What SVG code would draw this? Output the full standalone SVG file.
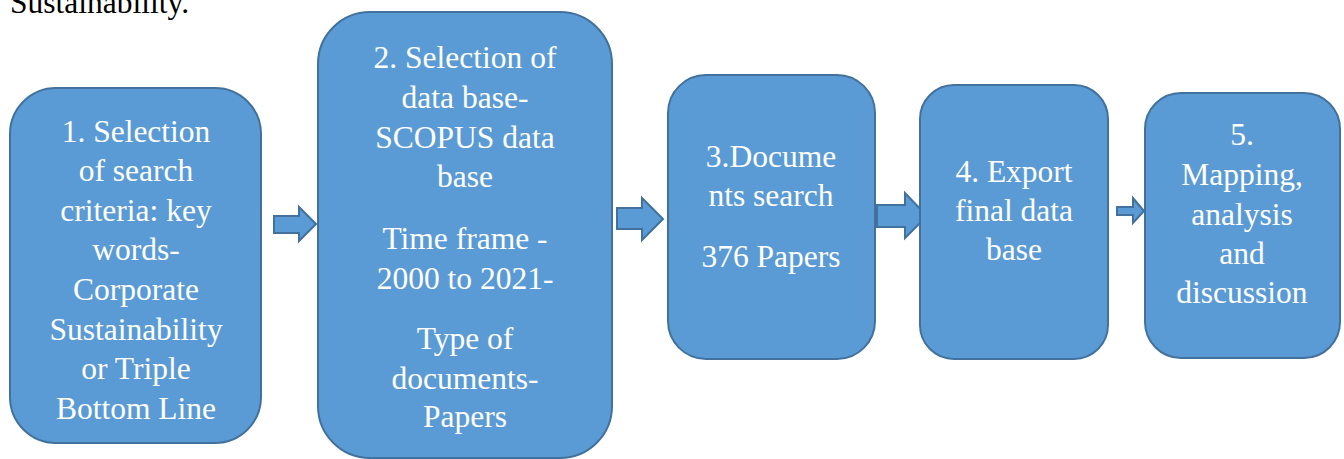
<svg xmlns="http://www.w3.org/2000/svg" width="1344" height="459" viewBox="0 0 1344 459">
<style>
.box{fill:#5B9BD5;stroke:#41719C;stroke-width:2}
.arr{fill:#5B9BD5;stroke:#41719C;stroke-width:2;stroke-linejoin:miter}
text{font-family:'Liberation Serif','Times New Roman',Times,'DejaVu Serif',serif;font-size:31.5px}
.t{fill:#FFFFFF;text-anchor:middle}
.cap{fill:#000000}
</style>
<rect width="1344" height="459" fill="#FFFFFF"/>
<text class="cap" x="10" y="13" font-family="Liberation Serif, serif">Sustainability.</text>
<g id="connectors">
<polygon class="arr" points="274,216 299,216 299,207 316,224 299,241 299,233 274,233"/>
<polygon class="arr" points="617,208 642,208 642,198 663,219 642,240 642,229 617,229"/>
<polygon class="arr" points="877,205 905,205 905,193 927,216 905,238 905,227 877,227"/>
<polygon class="arr" points="1117,207 1133,207 1133,198 1144,211 1133,223 1133,215 1117,215"/>
</g>
<g id="node1">
<rect class="box" x="10" y="88" width="251" height="355" rx="46" ry="46"/>
<text class="t" font-family="Liberation Serif, serif"><tspan x="136" y="142">1. Selection</tspan><tspan x="136" y="181">of search</tspan><tspan x="136" y="221">criteria: key</tspan><tspan x="136" y="260">words-</tspan><tspan x="136" y="300">Corporate</tspan><tspan x="136" y="340">Sustainability</tspan><tspan x="136" y="379">or Triple</tspan><tspan x="136" y="419">Bottom Line</tspan></text>
</g>
<g id="node2">
<rect class="box" x="318" y="12" width="294" height="446" rx="52" ry="52"/>
<text class="t" font-family="Liberation Serif, serif"><tspan x="465" y="68">2. Selection of</tspan><tspan x="465" y="108">data base-</tspan><tspan x="465" y="148">SCOPUS data</tspan><tspan x="465" y="187">base</tspan><tspan x="465" y="249">Time frame -</tspan><tspan x="465" y="289">2000 to 2021-</tspan><tspan x="465" y="349">Type of</tspan><tspan x="465" y="389">documents-</tspan><tspan x="465" y="427">Papers</tspan></text>
</g>
<g id="node3">
<rect class="box" x="668" y="75" width="207" height="284" rx="38" ry="38"/>
<text class="t" font-family="Liberation Serif, serif"><tspan x="771" y="167">3.Docume</tspan><tspan x="771" y="206">nts search</tspan><tspan x="771" y="267">376 Papers</tspan></text>
</g>
<g id="node4">
<rect class="box" x="920" y="85" width="188" height="274" rx="34" ry="34"/>
<text class="t" font-family="Liberation Serif, serif"><tspan x="1014" y="182">4. Export</tspan><tspan x="1014" y="221">final data</tspan><tspan x="1014" y="260">base</tspan></text>
</g>
<g id="node5">
<rect class="box" x="1145" y="93" width="195" height="265" rx="36" ry="36"/>
<text class="t" font-family="Liberation Serif, serif"><tspan x="1242" y="145">5.</tspan><tspan x="1242" y="185">Mapping,</tspan><tspan x="1242" y="225">analysis</tspan><tspan x="1242" y="264">and</tspan><tspan x="1242" y="303">discussion</tspan></text>
</g>
</svg>
